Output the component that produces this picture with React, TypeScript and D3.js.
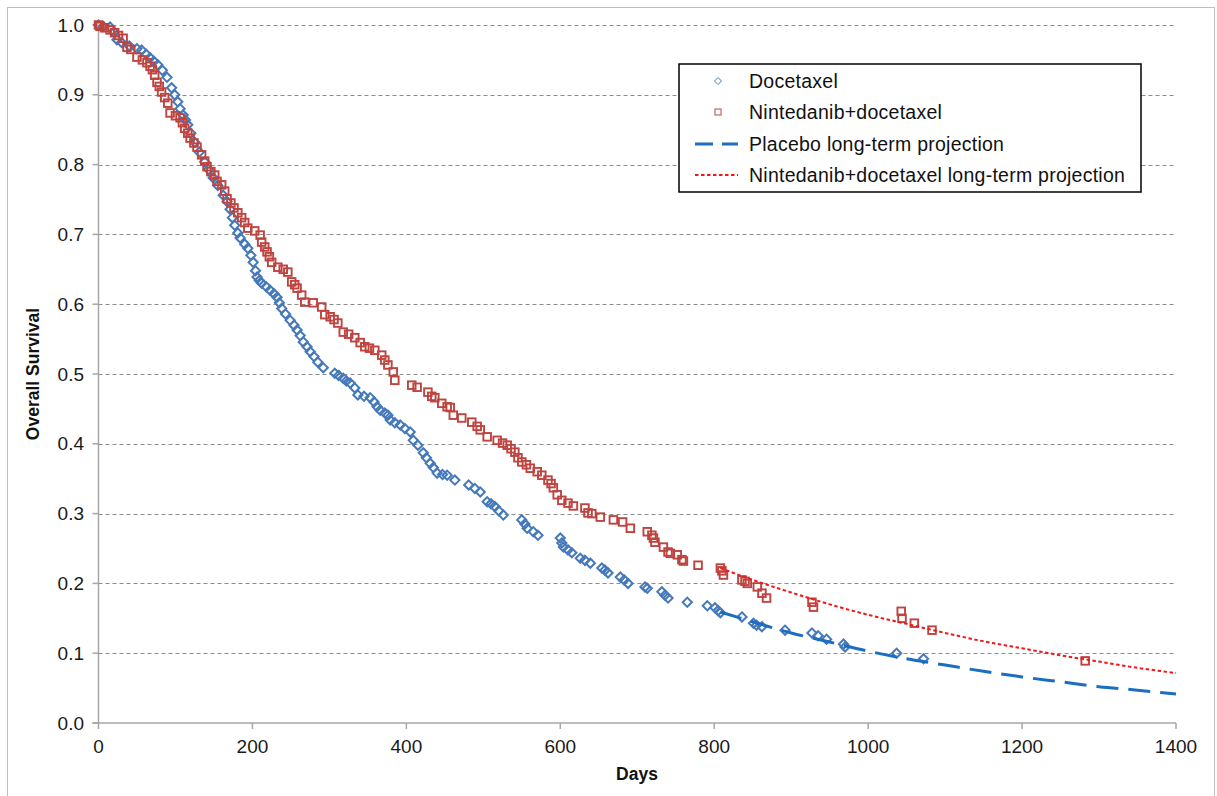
import React from "react";
import * as d3 from "d3";

const docetaxel: [number, number][] = [
  [0, 1.0], [6, 0.998], [15, 0.997], [20, 0.99], [24, 0.979], [30, 0.975], [40, 0.97], [50, 0.966], [56, 0.964], [62, 0.958], [67, 0.953], [72, 0.948],
  [77, 0.943], [83, 0.935], [89, 0.925], [95, 0.91], [99, 0.9], [103, 0.89], [106, 0.88], [110, 0.871], [113, 0.864], [116, 0.857],
  [120, 0.845], [125, 0.832], [131, 0.818], [138, 0.804], [143, 0.793], [149, 0.781], [155, 0.77], [162, 0.756], [167, 0.747],
  [171, 0.736], [174, 0.724], [177, 0.713], [181, 0.702], [184, 0.695], [190, 0.686], [194, 0.68], [198, 0.67], [201, 0.66],
  [204, 0.648], [206, 0.639], [209, 0.634], [212, 0.63], [218, 0.625], [223, 0.62], [228, 0.615], [232, 0.61], [235, 0.602],
  [238, 0.594], [243, 0.586], [249, 0.577], [254, 0.57], [258, 0.563], [262, 0.555], [266, 0.546], [271, 0.539], [275, 0.532],
  [280, 0.525], [285, 0.517], [292, 0.509], [307, 0.501], [312, 0.498], [318, 0.494], [322, 0.49], [327, 0.487], [333, 0.48],
  [337, 0.47], [345, 0.468], [353, 0.466], [358, 0.46], [362, 0.453], [366, 0.448], [372, 0.444], [376, 0.441], [379, 0.434],
  [385, 0.43], [392, 0.427], [398, 0.422], [405, 0.417], [409, 0.405], [415, 0.398], [422, 0.387], [426, 0.38], [431, 0.372],
  [435, 0.366], [440, 0.358], [447, 0.356], [453, 0.355], [463, 0.348], [481, 0.341], [489, 0.336], [496, 0.331], [505, 0.317],
  [510, 0.314], [515, 0.31], [520, 0.304], [526, 0.298], [550, 0.291], [554, 0.285], [557, 0.279], [565, 0.274], [571, 0.269],
  [600, 0.265], [602, 0.258], [604, 0.252], [610, 0.248], [615, 0.244], [626, 0.236], [632, 0.233], [639, 0.229], [654, 0.222],
  [658, 0.219], [662, 0.215], [678, 0.209], [683, 0.205], [688, 0.2], [710, 0.195], [713, 0.193], [732, 0.188], [736, 0.183],
  [740, 0.179], [765, 0.173], [791, 0.168], [801, 0.165], [805, 0.161], [808, 0.158], [836, 0.152], [851, 0.143], [855, 0.14],
  [862, 0.138], [892, 0.133], [927, 0.129], [935, 0.125], [946, 0.12], [968, 0.113], [970, 0.109], [1037, 0.1], [1072, 0.092],
];

const nintedanib: [number, number][] = [
  [0, 1.0], [2, 0.998], [8, 0.996], [15, 0.993], [21, 0.989], [26, 0.985], [32, 0.981], [37, 0.968], [42, 0.965], [50, 0.954],
  [57, 0.95], [63, 0.946], [67, 0.941], [70, 0.936], [73, 0.928], [76, 0.918], [79, 0.912], [82, 0.904], [86, 0.896],
  [90, 0.888], [93, 0.874], [100, 0.87], [106, 0.867], [109, 0.86], [112, 0.852], [116, 0.845], [119, 0.838], [124, 0.831],
  [128, 0.825], [134, 0.814], [138, 0.805], [141, 0.797], [146, 0.79], [151, 0.785], [154, 0.776], [160, 0.771], [164, 0.762],
  [167, 0.751], [172, 0.745], [176, 0.738], [181, 0.731], [186, 0.724], [190, 0.717], [194, 0.709], [203, 0.705], [210, 0.699],
  [212, 0.689], [216, 0.682], [219, 0.675], [222, 0.668], [225, 0.66], [233, 0.653], [240, 0.65], [246, 0.646], [251, 0.632],
  [255, 0.628], [258, 0.623], [264, 0.613], [268, 0.603], [279, 0.602], [290, 0.596], [294, 0.585], [301, 0.582], [306, 0.578],
  [311, 0.573], [318, 0.56], [325, 0.557], [333, 0.552], [340, 0.545], [346, 0.539], [352, 0.537], [359, 0.534], [368, 0.527],
  [372, 0.52], [376, 0.513], [383, 0.503], [385, 0.491], [407, 0.484], [414, 0.481], [428, 0.474], [433, 0.468], [437, 0.466],
  [446, 0.458], [453, 0.453], [457, 0.452], [461, 0.441], [472, 0.437], [485, 0.431], [492, 0.425], [496, 0.42], [505, 0.41],
  [518, 0.405], [525, 0.401], [531, 0.398], [536, 0.393], [541, 0.388], [545, 0.38], [550, 0.374], [556, 0.37], [561, 0.365],
  [570, 0.36], [576, 0.355], [584, 0.348], [588, 0.343], [591, 0.337], [596, 0.327], [602, 0.319], [610, 0.315], [617, 0.311],
  [632, 0.308], [636, 0.301], [641, 0.3], [652, 0.295], [669, 0.291], [681, 0.288], [691, 0.279], [713, 0.274], [719, 0.269],
  [721, 0.265], [723, 0.259], [734, 0.252], [740, 0.245], [743, 0.243], [752, 0.241], [758, 0.234], [760, 0.232], [779, 0.226],
  [808, 0.222], [810, 0.218], [812, 0.212], [836, 0.205], [840, 0.203], [843, 0.2], [856, 0.195], [862, 0.186], [868, 0.179],
  [927, 0.173], [929, 0.166], [1043, 0.16], [1044, 0.15], [1060, 0.143], [1083, 0.133], [1282, 0.089],
];

const placeboProjection: [number, number][] = [
  [808, 0.159], [850, 0.145], [900, 0.129], [950, 0.116], [1000, 0.103], [1050, 0.092], [1100, 0.083],
  [1150, 0.074], [1200, 0.066], [1250, 0.059], [1300, 0.052], [1350, 0.047], [1400, 0.0415],
];

const nintedanibProjection: [number, number][] = [
  [808, 0.222], [850, 0.205], [900, 0.187], [950, 0.17], [1000, 0.155], [1050, 0.142], [1100, 0.129],
  [1150, 0.117], [1200, 0.107], [1250, 0.097], [1300, 0.088], [1350, 0.079], [1400, 0.0716],
];

const xTicks = [0, 200, 400, 600, 800, 1000, 1200, 1400];
const yTicks = [0, 0.1, 0.2, 0.3, 0.4, 0.5, 0.6, 0.7, 0.8, 0.9, 1.0];

const legendLabels = [
  "Docetaxel",
  "Nintedanib+docetaxel",
  "Placebo long-term projection",
  "Nintedanib+docetaxel long-term projection",
];

const BLUE_MARK = "#4579BA";
const RED_MARK = "#BE4440";
const BLUE_LINE = "#1C6EC0";
const RED_LINE = "#F01818";
const FONT = "'Liberation Sans', Arial, sans-serif";

export default function App() {
  const W = 1217;
  const H = 796;
  const x = d3.scaleLinear().domain([0, 1400]).range([98.5, 1176]);
  const y = d3.scaleLinear().domain([0, 1]).range([723, 25]);

  const line = d3
    .line<[number, number]>()
    .x((d) => x(d[0]))
    .y((d) => y(d[1]))
    .curve(d3.curveMonotoneX);

  const diamond = (cx: number, cy: number, r: number) =>
    `M${cx},${cy - r}L${cx + r},${cy}L${cx},${cy + r}L${cx - r},${cy}Z`;

  const lx = 679;
  const ly = 64;
  const lw = 462;
  const lh = 128;
  const rowY = [81, 112, 144, 175];

  return (
    <svg
      width={W}
      height={H}
      style={{ position: "absolute", left: 0, top: 0, background: "#fff" }}
      fontFamily={FONT}
    >
      <rect x={7.5} y={7.5} width={1207} height={H} fill="#fff" stroke="#BFBFBF" strokeWidth={1} />

      {/* gridlines */}
      {yTicks.filter((t) => t > 0).map((t) => (
        <line
          key={"g" + t}
          x1={x(0)}
          x2={x(1400)}
          y1={Math.round(y(t)) + 0.5}
          y2={Math.round(y(t)) + 0.5}
          stroke="#8C8C8C"
          strokeWidth={1}
          strokeDasharray="4,3"
        />
      ))}

      {/* axes */}
      <line x1={x(0)} x2={x(0)} y1={y(1)} y2={y(0)} stroke="#A6A6A6" strokeWidth={1.5} />
      <line x1={x(0) - 6} x2={x(1400)} y1={y(0)} y2={y(0)} stroke="#A6A6A6" strokeWidth={1.5} />
      {yTicks.map((t) => (
        <g key={"yt" + t}>
          <line x1={x(0) - 6} x2={x(0)} y1={y(t)} y2={y(t)} stroke="#A6A6A6" strokeWidth={1.5} />
          <text x={84} y={y(t)} dy="0.35em" textAnchor="end" fontSize={19} fill="#1a1a1a">
            {t.toFixed(1)}
          </text>
        </g>
      ))}
      {xTicks.map((t) => (
        <g key={"xt" + t}>
          <line x1={x(t)} x2={x(t)} y1={y(0)} y2={y(0) + 6} stroke="#A6A6A6" strokeWidth={1.5} />
          <text x={x(t)} y={746} dy="0.35em" textAnchor="middle" fontSize={19} fill="#1a1a1a">
            {t}
          </text>
        </g>
      ))}

      <text x={637} y={774} dy="0.35em" textAnchor="middle" fontSize={17.5} fontWeight="bold" fill="#111">
        Days
      </text>
      <text
        transform={`translate(33,374) rotate(-90)`}
        textAnchor="middle"
        dy="0.35em"
        fontSize={17.5}
        fontWeight="bold"
        fill="#111"
      >
        Overall Survival
      </text>

      {/* markers */}
      {docetaxel.map((d, i) => (
        <path key={"b" + i} d={diamond(x(d[0]), y(d[1]), 4.6)} fill="none" stroke={BLUE_MARK} strokeWidth={2} />
      ))}
      {nintedanib.map((d, i) => (
        <rect
          key={"r" + i}
          x={x(d[0]) - 3.8}
          y={y(d[1]) - 3.8}
          width={7.6}
          height={7.6}
          fill="none"
          stroke={RED_MARK}
          strokeWidth={1.9}
        />
      ))}

      {/* projections */}
      <path d={line(placeboProjection) || ""} fill="none" stroke={BLUE_LINE} strokeWidth={3} strokeDasharray="22,10" />
      <path d={line(nintedanibProjection) || ""} fill="none" stroke={RED_LINE} strokeWidth={2} strokeDasharray="3.5,2.5" />

      {/* legend */}
      <rect x={lx} y={ly} width={lw} height={lh} fill="#fff" stroke="#000" strokeWidth={1.5} />
      <path d={diamond(718, rowY[0], 3.5)} fill="none" stroke={BLUE_MARK} strokeWidth={1} />
      <rect x={715} y={rowY[1] - 3} width={6} height={6} fill="none" stroke={RED_MARK} strokeWidth={1} />
      <line x1={695} x2={738} y1={rowY[2]} y2={rowY[2]} stroke={BLUE_LINE} strokeWidth={3} strokeDasharray="18,9" />
      <line x1={695} x2={738} y1={rowY[3]} y2={rowY[3]} stroke={RED_LINE} strokeWidth={1.8} strokeDasharray="3.5,2.5" />
      {legendLabels.map((l, i) => (
        <text key={l} x={749} y={rowY[i]} dy="0.35em" fontSize={19.5} letterSpacing={0.25} fill="#111">
          {l}
        </text>
      ))}
    </svg>
  );
}
